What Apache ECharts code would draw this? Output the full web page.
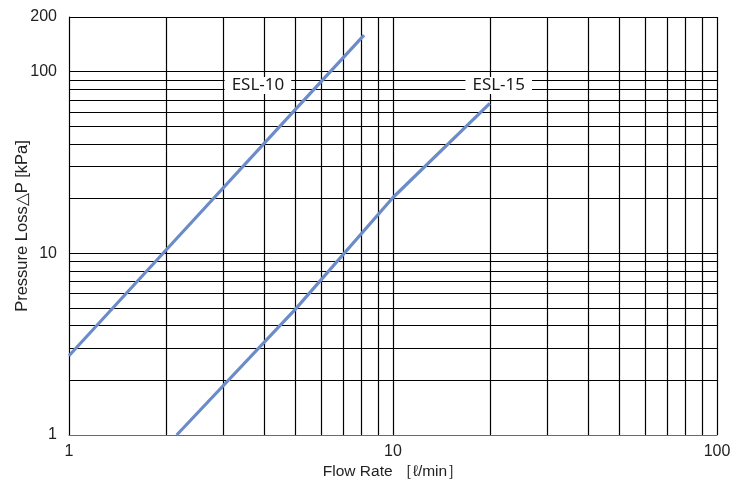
<!DOCTYPE html>
<html>
<head>
<meta charset="utf-8">
<script src="https://cdn.jsdelivr.net/npm/echarts@6/dist/echarts.min.js"></script>
<style>
  html, body { margin: 0; padding: 0; background: #fff; }
  #chart { width: 734px; height: 483px; }
</style>
</head>
<body>
<div id="chart"></div>
<script>
// Flow rate [l/min] vs pressure loss [kPa], log-log
const esl10 = [[1, 2.73], [2, 10.5], [5, 62], [8.14, 159]];
const esl15 = [[2.15, 1], [5, 4.93], [10, 20.3], [19.9, 67]];

// grid values (decade subdivisions)
const xGridValues = [2, 3, 4, 5, 6, 7, 8, 9, 10, 20, 30, 40, 50, 60, 70, 80, 90, 100];
const yGridValues = [2, 3, 4, 5, 6, 7, 8, 9, 10, 20, 30, 40, 50, 60, 70, 80, 90, 100, 200];
const xTickLabels = [1, 10, 100];
const yTickLabels = [1, 10, 100, 200];

// where the series names sit on the chart
const nameAnchors = { 'ESL-10': [3.83, 84], 'ESL-15': [21.2, 84] };

const lineColor = '#6b8cc9';
const gridColor = '#000';
const labelFont = '"Liberation Sans", Arial, sans-serif';

const gridLines = xGridValues.map(v => ({ xAxis: v }))
  .concat(yGridValues.map(v => ({ yAxis: v })));

function seriesOf(name, data) {
  return {
    name: name,
    type: 'line',
    data: data,
    symbol: 'none',
    z: 5,
    lineStyle: { color: lineColor, width: 3.2 },
    markPoint: {
      symbol: 'rect',
      symbolSize: 1,
      itemStyle: { color: 'rgba(0,0,0,0)' },
      silent: true,
      z: 6,
      data: [{
        coord: nameAnchors[name],
        label: {
          show: true,
          formatter: name,
          position: 'inside',
          color: '#1a1a1a',
          fontFamily: '"Noto Sans", "Open Sans", sans-serif',
          fontSize: 17,
          backgroundColor: '#fff',
          padding: [0, 7, 0, 7]
        }
      }]
    }
  };
}

const chart = echarts.init(document.getElementById('chart'), null, { renderer: 'canvas' });
chart.setOption({
  animation: false,
  backgroundColor: '#fff',
  grid: { left: 69, right: 17, top: 17, bottom: 48, containLabel: false, outerBoundsMode: 'none' },
  xAxis: {
    type: 'log',
    logBase: 10,
    min: 1,
    max: 100,
    name: 'Flow Rate ［ℓ/min］',
    nameLocation: 'middle',
    nameMoveOverlap: false,
    nameGap: 29,
    nameTextStyle: { fontFamily: labelFont, fontSize: 15.5, color: '#222' },
    axisLine: { show: true, lineStyle: { color: '#6a6a6a', width: 1.2 } },
    axisTick: { show: false },
    splitLine: { show: false },
    axisLabel: {
      customValues: xTickLabels,
      margin: 9,
      fontFamily: labelFont,
      fontSize: 16,
      color: '#222'
    }
  },
  yAxis: {
    type: 'log',
    logBase: 10,
    min: 1,
    max: 200,
    name: 'Pressure Loss△P [kPa]',
    nameLocation: 'middle',
    nameMoveOverlap: false,
    nameGap: 38,
    nameTextStyle: { fontFamily: labelFont, fontSize: 16.5, color: '#222' },
    axisLine: { show: true, lineStyle: { color: gridColor, width: 1.2 } },
    axisTick: { show: false },
    splitLine: { show: false },
    axisLabel: {
      customValues: yTickLabels,
      margin: 12,
      fontFamily: labelFont,
      fontSize: 16,
      color: '#222'
    }
  },
  series: [
    Object.assign(seriesOf('ESL-10', esl10), {
      markLine: {
        silent: true,
        symbol: 'none',
        z: 1,
        label: { show: false },
        lineStyle: { color: gridColor, width: 1.2, type: 'solid' },
        data: gridLines
      }
    }),
    seriesOf('ESL-15', esl15)
  ]
});
</script>
</body>
</html>
